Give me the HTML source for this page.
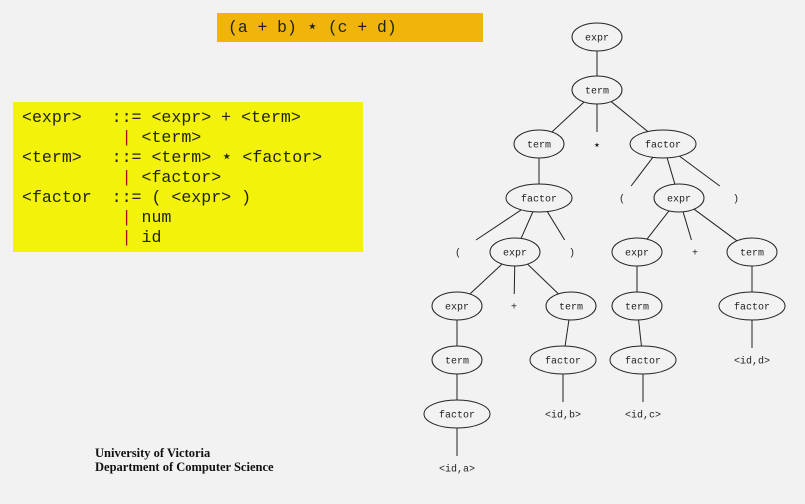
<!DOCTYPE html><html><head><style>
body{margin:0;background:#f2f2f2;width:805px;height:504px;overflow:hidden;position:relative;font-family:"Liberation Mono",monospace}
.o{position:absolute;left:217px;top:13px;width:266px;height:29px;background:#f0b40a;font-size:16.4px;line-height:29px;padding-left:11px;box-sizing:border-box;color:#222}
.y{position:absolute;left:13px;top:102px;width:350px;height:150px;background:#f2f20a;font-size:16.6px;line-height:20px;padding:6px 0 0 9px;box-sizing:border-box;white-space:pre;color:#222}
.y b{color:#a01010;font-weight:normal}
.st{font-family:"DejaVu Sans",sans-serif;font-size:18px;line-height:10px}
.f{position:absolute;left:95px;top:446px;font:bold 12.5px/14px "Liberation Serif",serif;color:#111}
svg{position:absolute;left:0;top:0}
</style></head><body>
<div class="o">(a + b) <span class="st">&#8902;</span> (c + d)</div>
<div class="y">&lt;expr&gt;   ::= &lt;expr&gt; + &lt;term&gt;
          <b>|</b> &lt;term&gt;
&lt;term&gt;   ::= &lt;term&gt; <span class="st">&#8902;</span> &lt;factor&gt;
          <b>|</b> &lt;factor&gt;
&lt;factor  ::= ( &lt;expr&gt; )
          <b>|</b> num
          <b>|</b> id</div>
<div class="f">University of Victoria<br>Department of Computer Science</div>
<svg id="s" width="805" height="504" font-family="Liberation Mono,monospace" font-size="10"></svg>
<script>
var N={
a:[597,37,'expr',25],b:[597,90,'term',25],c:[539,144,'term',25],d:[597,144,'*',0],e:[663,144,'factor',33],
f:[539,198,'factor',33],g:[622,198,'(',0],h:[679,198,'expr',25],i:[736,198,')',0],
j:[458,252,'(',0],k:[515,252,'expr',25],l:[572,252,')',0],m:[637,252,'expr',25],n:[695,252,'+',0],o:[752,252,'term',25],
p:[457,306,'expr',25],q:[514,306,'+',0],r:[571,306,'term',25],s:[637,306,'term',25],t:[752,306,'factor',33],
u:[457,360,'term',25],v:[563,360,'factor',33],w:[643,360,'factor',33],x:[752,360,'<id,d>',0],
y:[457,414,'factor',33],z:[563,414,'<id,b>',0],A:[643,414,'<id,c>',0],B:[457,468,'<id,a>',0]};
var E=['ab','bc','bd','be','cf','eg','eh','ei','fj','fk','fl','hm','hn','ho','kp','kq','kr','ms','ot','pu','rv','sw','tx','uy','vz','wA','yB'];
var h='';
E.forEach(function(e){var P=N[e[0]],C=N[e[1]];var dx=C[0]-P[0],dy=C[1]-P[1];
var t=1/Math.sqrt(dx*dx/(P[3]*P[3])+dy*dy/196);var x1=P[0]+dx*t,y1=P[1]+dy*t,x2,y2;
if(C[3]){var t2=1/Math.sqrt(dx*dx/(C[3]*C[3])+dy*dy/196);x2=C[0]-dx*t2;y2=C[1]-dy*t2;}
else{var s=(dy-12)/dy;x2=P[0]+dx*s;y2=P[1]+dy*s;}
h+='<line x1="'+x1+'" y1="'+y1+'" x2="'+x2+'" y2="'+y2+'" stroke="#222" stroke-width="1"/>';});
for(var k in N){var n=N[k];if(n[3])h+='<ellipse cx="'+n[0]+'" cy="'+n[1]+'" rx="'+n[3]+'" ry="14" fill="none" stroke="#222"/>';
var l=n[2].replace(/</g,'&lt;').replace(/>/g,'&gt;');
if(l=='*')h+='<text x="'+n[0]+'" y="'+(n[1]+5)+'" text-anchor="middle" fill="#222" font-family="DejaVu Sans,sans-serif" font-size="13">&#8902;</text>';
else h+='<text x="'+n[0]+'" y="'+(n[1]+3.5)+'" text-anchor="middle" fill="#222">'+l+'</text>';}
document.getElementById('s').innerHTML=h;
</script></body></html>
